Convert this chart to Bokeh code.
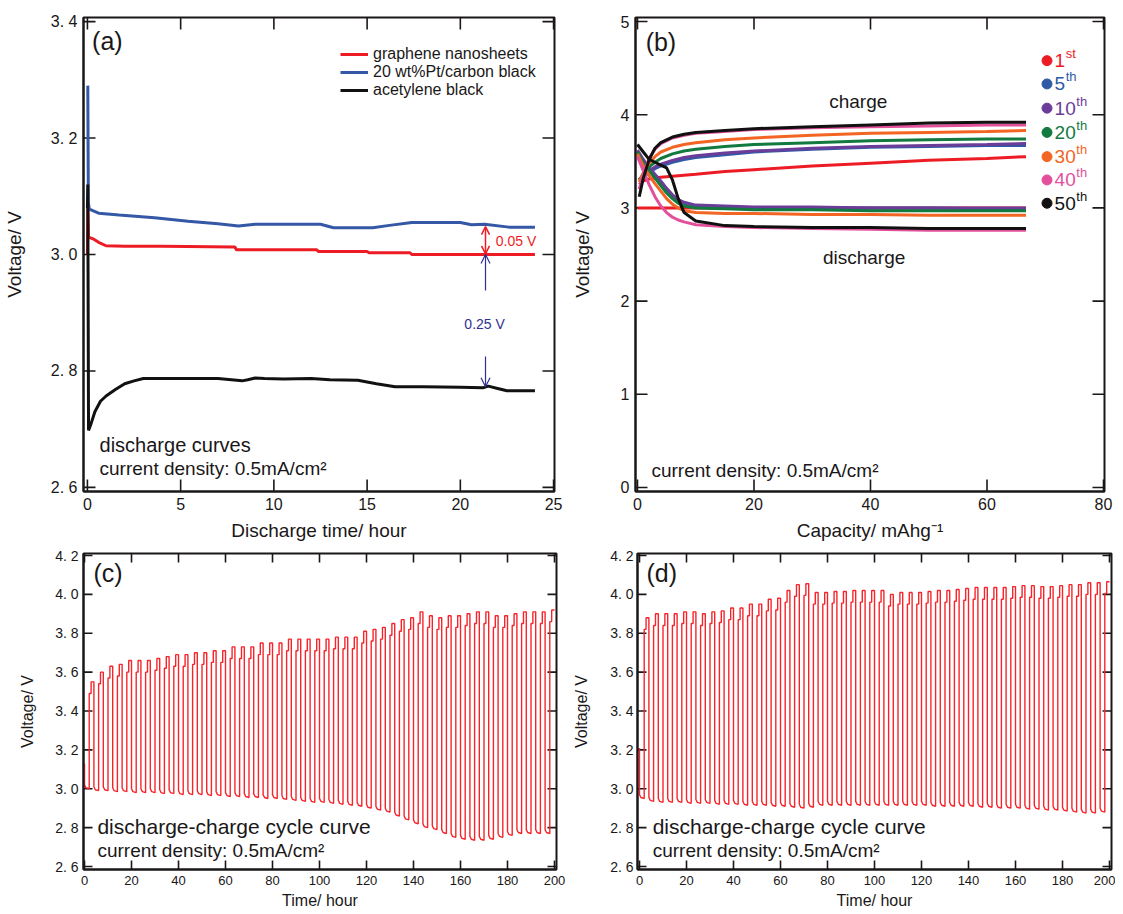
from bokeh.plotting import figure
from bokeh.models import (Range1d, FixedTicker, CustomJSTickFormatter, Label,
                          Arrow, OpenHead, Legend, LegendItem)
from bokeh.layouts import column, row
from bokeh.embed import file_html
from bokeh.resources import INLINE

# ---------------------------------------------------------------- data
# (a) discharge curves, time in hours, voltage in V
a_graphene_t = [0.0, 0.03, 0.06, 0.3, 0.6, 1.0, 2.0, 4.0, 7.9, 8.0, 12.3, 12.4, 15.0, 15.1, 17.3, 17.4, 20.0, 22.0, 24.0]
a_graphene_v = [3.0, 3.08, 3.03, 3.027, 3.021, 3.015, 3.014, 3.014, 3.013, 3.008, 3.008, 3.005, 3.005, 3.003, 3.003, 3.0, 3.0, 3.0, 3.0]
a_pt_t = [0.02, 0.05, 0.1, 0.6, 1.7, 3.6, 5.4, 7.0, 8.1, 9.0, 12.5, 13.2, 15.3, 16.2, 17.4, 20.0, 20.6, 21.3, 22.6, 24.0]
a_pt_v = [3.29, 3.09, 3.078, 3.071, 3.068, 3.063, 3.057, 3.053, 3.049, 3.052, 3.052, 3.046, 3.046, 3.050, 3.055, 3.055, 3.051, 3.052, 3.047, 3.047]
a_ab_t = [0.0, 0.02, 0.06, 0.2, 0.4, 0.7, 1.0, 1.5, 2.0, 2.5, 3.0, 5.0, 7.0, 8.3, 8.6, 9.0, 9.5, 10.5, 12.0, 13.0,
          14.5, 15.5, 16.5, 18.0, 20.0, 21.2, 21.5, 22.0, 22.5, 24.0]
a_ab_v = [3.08, 3.12, 2.698, 2.71, 2.73, 2.748, 2.757, 2.768, 2.778, 2.783, 2.787, 2.787, 2.787, 2.783, 2.785, 2.788,
          2.787, 2.786, 2.787, 2.785, 2.784, 2.778, 2.773, 2.773, 2.772, 2.771, 2.774, 2.770, 2.766, 2.766]
a_series = ["graphene nanosheets", "20 wt%Pt/carbon black", "acetylene black"]
a_xticks = [0, 5, 10, 15, 20, 25]
a_yticks = [2.6, 2.8, 3.0, 3.2, 3.4]

# (b) charge / discharge profiles, capacity in mAh/g
b_charge_cap = [0.3, 1, 2, 3, 4, 6, 8, 10, 15, 20, 30, 40, 50, 60, 66.7]
b_charge_1st = [3.25, 3.29, 3.31, 3.32, 3.33, 3.34, 3.35, 3.36, 3.39, 3.41, 3.45, 3.48, 3.51, 3.53, 3.55]
b_charge_5th = [3.30, 3.33, 3.38, 3.42, 3.45, 3.49, 3.52, 3.54, 3.57, 3.60, 3.63, 3.65, 3.66, 3.67, 3.67]
b_charge_10th = [3.30, 3.34, 3.40, 3.44, 3.47, 3.51, 3.54, 3.56, 3.59, 3.61, 3.64, 3.66, 3.67, 3.68, 3.69]
b_charge_20th = [3.30, 3.36, 3.44, 3.49, 3.53, 3.58, 3.61, 3.63, 3.66, 3.68, 3.70, 3.72, 3.73, 3.74, 3.74]
b_charge_30th = [3.28, 3.38, 3.48, 3.55, 3.60, 3.65, 3.68, 3.70, 3.73, 3.75, 3.78, 3.80, 3.81, 3.82, 3.83]
b_charge_40th = [3.20, 3.36, 3.53, 3.63, 3.69, 3.75, 3.78, 3.80, 3.82, 3.84, 3.86, 3.87, 3.88, 3.89, 3.89]
b_charge_50th = [3.12, 3.32, 3.52, 3.64, 3.70, 3.76, 3.79, 3.81, 3.83, 3.85, 3.87, 3.89, 3.91, 3.92, 3.92]
b_discharge_cap = [0, 1, 2, 3, 4, 5, 6, 7, 8, 10, 15, 20, 30, 40, 50, 60, 66.7]
b_discharge_1st = [3.0, 3.0, 3.0, 3.0, 3.0, 3.0, 3.0, 3.0, 3.0, 3.0, 3.0, 3.0, 3.0, 3.0, 3.0, 3.0, 3.0]
b_discharge_5th = [3.60, 3.50, 3.42, 3.35, 3.28, 3.20, 3.13, 3.08, 3.05, 3.02, 3.01, 3.0, 3.0, 3.0, 3.0, 2.99, 2.99]
b_discharge_10th = [3.62, 3.52, 3.43, 3.36, 3.29, 3.21, 3.14, 3.09, 3.06, 3.03, 3.02, 3.01, 3.01, 3.0, 3.0, 3.0, 3.0]
b_discharge_20th = [3.60, 3.48, 3.40, 3.32, 3.24, 3.16, 3.10, 3.05, 3.02, 3.0, 2.99, 2.98, 2.98, 2.97, 2.97, 2.97, 2.97]
b_discharge_30th = [3.58, 3.45, 3.35, 3.26, 3.18, 3.10, 3.04, 3.0, 2.97, 2.95, 2.94, 2.94, 2.93, 2.93, 2.92, 2.92, 2.92]
b_discharge_40th = [3.55, 3.40, 3.25, 3.12, 3.02, 2.95, 2.90, 2.87, 2.85, 2.82, 2.80, 2.79, 2.78, 2.77, 2.76, 2.76, 2.76]
b_discharge_50th = [3.68, 3.60, 3.52, 3.49, 3.46, 3.43, 3.30, 3.10, 2.95, 2.86, 2.81, 2.80, 2.79, 2.79, 2.78, 2.78, 2.78]
b_cycle_num = ["1", "5", "10", "20", "30", "40", "50"]
b_cycle_sup = ["st", "th", "th", "th", "th", "th", "th"]
b_xticks = [0, 20, 40, 60, 80]
b_yticks = [0, 1, 2, 3, 4, 5]

# (c) / (d) cycling: one value per 4-hour cycle (2 h discharge + 2 h charge)
cycle_hours = 4.0
c_start_v = 3.13
c_charge_top = [3.55, 3.60, 3.63, 3.64, 3.66, 3.66, 3.66, 3.67, 3.68, 3.69,
                3.69, 3.70, 3.70, 3.71, 3.71, 3.73, 3.73, 3.73, 3.75, 3.75,
                3.75, 3.77, 3.77, 3.77, 3.77, 3.77, 3.78, 3.78, 3.78, 3.81,
                3.82, 3.83, 3.85, 3.87, 3.88, 3.91, 3.89, 3.88, 3.89, 3.89,
                3.90, 3.91, 3.91, 3.89, 3.89, 3.90, 3.91, 3.91, 3.91, 3.92]
c_discharge_bottom = [3.00, 2.99, 2.99, 2.985, 2.985, 2.98, 2.98, 2.98, 2.975, 2.975,
                      2.97, 2.97, 2.97, 2.965, 2.965, 2.96, 2.96, 2.955, 2.955, 2.95,
                      2.95, 2.945, 2.94, 2.935, 2.93, 2.93, 2.925, 2.92, 2.915, 2.91,
                      2.90, 2.89, 2.88, 2.86, 2.84, 2.82, 2.80, 2.79, 2.77, 2.75,
                      2.74, 2.735, 2.735, 2.74, 2.75, 2.76, 2.77, 2.77, 2.77, 2.77]
d_start_v = 3.21
d_charge_top = [3.88, 3.90, 3.90, 3.90, 3.91, 3.91, 3.90, 3.91, 3.915, 3.93,
                3.93, 3.95, 3.95, 3.975, 3.98, 4.02, 4.05, 4.055, 4.01, 4.01,
                4.015, 4.015, 4.02, 4.02, 4.02, 4.02, 4.00, 4.01, 4.01, 4.01,
                4.015, 4.02, 4.02, 4.025, 4.03, 4.035, 4.035, 4.035, 4.035, 4.04,
                4.045, 4.045, 4.04, 4.04, 4.045, 4.05, 4.05, 4.06, 4.06, 4.065]
d_discharge_bottom = [2.95, 2.935, 2.93, 2.93, 2.93, 2.925, 2.925, 2.925, 2.92, 2.92,
                      2.92, 2.915, 2.915, 2.915, 2.91, 2.91, 2.905, 2.90, 2.905, 2.915,
                      2.915, 2.915, 2.915, 2.915, 2.915, 2.915, 2.915, 2.915, 2.915, 2.915,
                      2.915, 2.91, 2.91, 2.91, 2.91, 2.91, 2.905, 2.905, 2.90, 2.90,
                      2.90, 2.895, 2.895, 2.89, 2.89, 2.885, 2.88, 2.875, 2.875, 2.88]
cd_xticks = [0, 20, 40, 60, 80, 100, 120, 140, 160, 180, 200]
cd_yticks = [2.6, 2.8, 3.0, 3.2, 3.4, 3.6, 3.8, 4.0, 4.2]

# ---------------------------------------------------------------- style
INK = "#1a1718"
FONT = "Liberation Sans"
RED = "#ed1c24"
BLUE = "#3457a6"
NAVY = "#2e3192"
CYCLE_RED = "#f7252b"
B_COLORS = ["#ed1c24", "#2e5aa7", "#6c3d98", "#12793f", "#f26522", "#e2509c", "#111111"]
SPACED = "return tick.toFixed(1).replace('.', '. ');"
TICK_W = 1.6
NAN = float("nan")


def make_fig(w, h, xr, yr, borders):
    l, r, t, b = borders
    p = figure(width=w, height=h, x_range=Range1d(*xr), y_range=Range1d(*yr),
               output_backend="svg", toolbar_location=None,
               min_border_left=l, min_border_right=r, min_border_top=t, min_border_bottom=b)
    p.grid.visible = False
    p.outline_line_color = INK
    p.outline_line_width = 2
    p.background_fill_color = "white"
    p.border_fill_color = "white"
    return p, (w - l - r, h - t - b)


def tick_path(positions, edge, inner, vertical):
    """Polyline with NaN breaks: one short stroke per tick, from the frame edge inwards."""
    a, b = [], []
    for q in positions:
        if vertical:
            a += [q, q, NAN]
            b += [edge, inner, NAN]
        else:
            a += [edge, inner, NAN]
            b += [q, q, NAN]
    return a, b


def style_axes(p, frame, xticks, yticks, yfmt, tick_in, xtick_size, ytick_size, xlabel, ylabel, title_size,
               x_standoff, y_standoff, xl_standoff, yl_standoff):
    xa, ya = p.xaxis[0], p.yaxis[0]
    xa.ticker = FixedTicker(ticks=xticks)
    ya.ticker = FixedTicker(ticks=yticks)
    if yfmt:
        ya.formatter = CustomJSTickFormatter(code=yfmt)
    for ax in (xa, ya):
        ax.major_tick_in = 0
        ax.major_tick_out = 0
        ax.minor_tick_in = 0
        ax.minor_tick_out = 0
        ax.axis_line_color = INK
        ax.axis_line_width = 2
        ax.major_label_text_font = FONT
        ax.major_label_text_color = INK
        ax.axis_label_text_font = FONT
        ax.axis_label_text_font_size = title_size
        ax.axis_label_text_font_style = "normal"
        ax.axis_label_text_color = INK
    xa.major_label_text_font_size = xtick_size
    ya.major_label_text_font_size = ytick_size
    xa.axis_label = xlabel
    ya.axis_label = ylabel
    xa.major_label_standoff = x_standoff
    ya.major_label_standoff = y_standoff
    xa.axis_label_standoff = xl_standoff
    ya.axis_label_standoff = yl_standoff
    # inner ticks on all four edges of the frame
    fw, fh = frame
    x0, x1 = p.x_range.start, p.x_range.end
    y0, y1 = p.y_range.start, p.y_range.end
    dy = tick_in * (y1 - y0) / fh
    dx = tick_in * (x1 - x0) / fw
    for pos, edge, inner, vert in ((xticks, y0, y0 + dy, True), (xticks, y1, y1 - dy, True),
                                   (yticks, x0, x0 + dx, False), (yticks, x1, x1 - dx, False)):
        tx, ty = tick_path(pos, edge, inner, vert)
        p.line(tx, ty, line_color=INK, line_width=TICK_W)


def label(p, x, y, text, size, color=INK, align="left", y_offset=0, x_offset=0, font=FONT):
    p.add_layout(Label(x=x, y=y, text=text, text_font=font, text_font_size=size, text_color=color,
                       text_align=align, text_baseline="middle", x_offset=x_offset, y_offset=y_offset))


def cycle_wave(start_v, tops, bottoms, hours):
    t, v = [0.0], [start_v]
    half = hours / 2.0
    for i, (top, bot) in enumerate(zip(tops, bottoms)):
        t0 = i * hours
        t += [t0, t0 + 0.3 * half, t0 + half, t0 + half, t0 + 1.4 * half, t0 + 1.4 * half, t0 + hours]
        v += [bot + 0.02, bot + 0.005, bot, top - 0.06, top - 0.06, top, top]
    return t, v


# ---------------------------------------------------------------- (a)
pa, fa = make_fig(568, 545, (-0.21, 25.05), (2.593, 3.407), (83, 14, 16, 54))
style_axes(pa, fa, a_xticks, a_yticks, SPACED, 12, "16px", "16px", "Discharge time/ hour", "Voltage/ V", "19px",
           6, 6, 7, 23)
ra = pa.line(a_graphene_t, a_graphene_v, line_color=RED, line_width=3)
rb = pa.line(a_pt_t, a_pt_v, line_color=BLUE, line_width=3)
rc = pa.line(a_ab_t, a_ab_v, line_color="#111111", line_width=3)
leg = Legend(items=[LegendItem(label=a_series[0], renderers=[ra]),
                    LegendItem(label=a_series[1], renderers=[rb]),
                    LegendItem(label=a_series[2], renderers=[rc])],
             location=(253, 388), margin=0, padding=4, spacing=0, glyph_width=28, glyph_height=18,
             label_height=18, label_standoff=5, label_text_font=FONT, label_text_font_size="16px",
             label_text_color=INK, background_fill_alpha=0, border_line_alpha=0)
pa.add_layout(leg)
label(pa, 0.25, 3.366, "(a)", "25px")
label(pa, 0.65, 2.672, "discharge curves", "20px")
label(pa, 0.65, 2.632, "current density: 0.5mA/cm²", "19px")
pa.add_layout(Arrow(start=OpenHead(size=8, line_color=RED, line_width=1.5),
                    end=OpenHead(size=8, line_color=RED, line_width=1.5),
                    x_start=21.35, y_start=3.001, x_end=21.35, y_end=3.048, line_color=RED, line_width=1.5))
pa.add_layout(Arrow(end=OpenHead(size=9, line_color=NAVY, line_width=1.2),
                    x_start=21.35, y_start=2.938, x_end=21.35, y_end=3.0, line_color=NAVY, line_width=1.2))
pa.add_layout(Arrow(end=OpenHead(size=9, line_color=NAVY, line_width=1.2),
                    x_start=21.35, y_start=2.825, x_end=21.35, y_end=2.773, line_color=NAVY, line_width=1.2))
label(pa, 21.9, 3.024, "0.05 V", "14px", color=RED)
label(pa, 21.3, 2.881, "0.25 V", "14px", color=NAVY, align="center")

# ---------------------------------------------------------------- (b)
pb, fb = make_fig(547, 545, (-0.34, 80.17), (-0.043, 5.043), (67, 11, 17, 53))
style_axes(pb, fb, b_xticks, b_yticks, None, 12, "16px", "16px", "Capacity/ mAhg⁻¹", "Voltage/ V", "19px",
           6, 6, 7, 25)
b_charge = [b_charge_1st, b_charge_5th, b_charge_10th, b_charge_20th, b_charge_30th, b_charge_40th, b_charge_50th]
b_discharge = [b_discharge_1st, b_discharge_5th, b_discharge_10th, b_discharge_20th, b_discharge_30th,
               b_discharge_40th, b_discharge_50th]
for col, ch, dis in zip(B_COLORS, b_charge, b_discharge):
    pb.line(b_charge_cap, ch, line_color=col, line_width=3)
    pb.line(b_discharge_cap, dis, line_color=col, line_width=3)
b_leg_dot_x = 70.3
b_leg_text_x = 71.6
b_leg_y = [4.58, 4.33, 4.07, 3.81, 3.55, 3.30, 3.05]
pb.scatter([b_leg_dot_x] * len(b_leg_y), b_leg_y, size=10, fill_color=B_COLORS, line_color=B_COLORS)
for num, sup, col, yy in zip(b_cycle_num, b_cycle_sup, B_COLORS, b_leg_y):
    label(pb, b_leg_text_x, yy, num, "19px", color=col)
    label(pb, b_leg_text_x, yy, sup, "13px", color=col, x_offset=10.6 * len(num) + 0.5, y_offset=7)
label(pb, 1.4, 4.78, "(b)", "25px")
label(pb, 37.9, 4.14, "charge", "19px", align="center")
label(pb, 38.9, 2.47, "discharge", "19px", align="center")
label(pb, 2.4, 0.18, "current density: 0.5mA/cm²", "19px")

# ---------------------------------------------------------------- (c)
pc, fc = make_fig(568, 368, (-0.43, 200.85), (2.5846, 4.2103), (83, 12, 8, 44))
style_axes(pc, fc, cd_xticks, cd_yticks, SPACED, 9, "13px", "14px", "Time/ hour", "Voltage/ V", "16px",
           6, 5, 4, 16)
c_t, c_v = cycle_wave(c_start_v, c_charge_top, c_discharge_bottom, cycle_hours)
pc.line(c_t, c_v, line_color=CYCLE_RED, line_width=1.4)
label(pc, 3.8, 4.11, "(c)", "25px")
label(pc, 5.5, 2.807, "discharge-charge cycle curve", "21px")
label(pc, 5.5, 2.68, "current density: 0.5mA/cm²", "19px")

# ---------------------------------------------------------------- (d)
pd_, fd = make_fig(547, 368, (-0.85, 200.85), (2.5846, 4.2103), (69, 4, 8, 44))
style_axes(pd_, fd, cd_xticks, cd_yticks, SPACED, 9, "13px", "14px", "Time/ hour", "Voltage/ V", "16px",
           6, 4, 4, 17)
d_t, d_v = cycle_wave(d_start_v, d_charge_top, d_discharge_bottom, cycle_hours)
pd_.line(d_t, d_v, line_color=CYCLE_RED, line_width=1.4)
label(pd_, 3.0, 4.11, "(d)", "25px")
label(pd_, 5.6, 2.807, "discharge-charge cycle curve", "21px")
label(pd_, 5.6, 2.68, "current density: 0.5mA/cm²", "19px")

layout = column(row(pa, pb), row(pc, pd_))
open("out.html", "w").write(file_html(layout, INLINE))
